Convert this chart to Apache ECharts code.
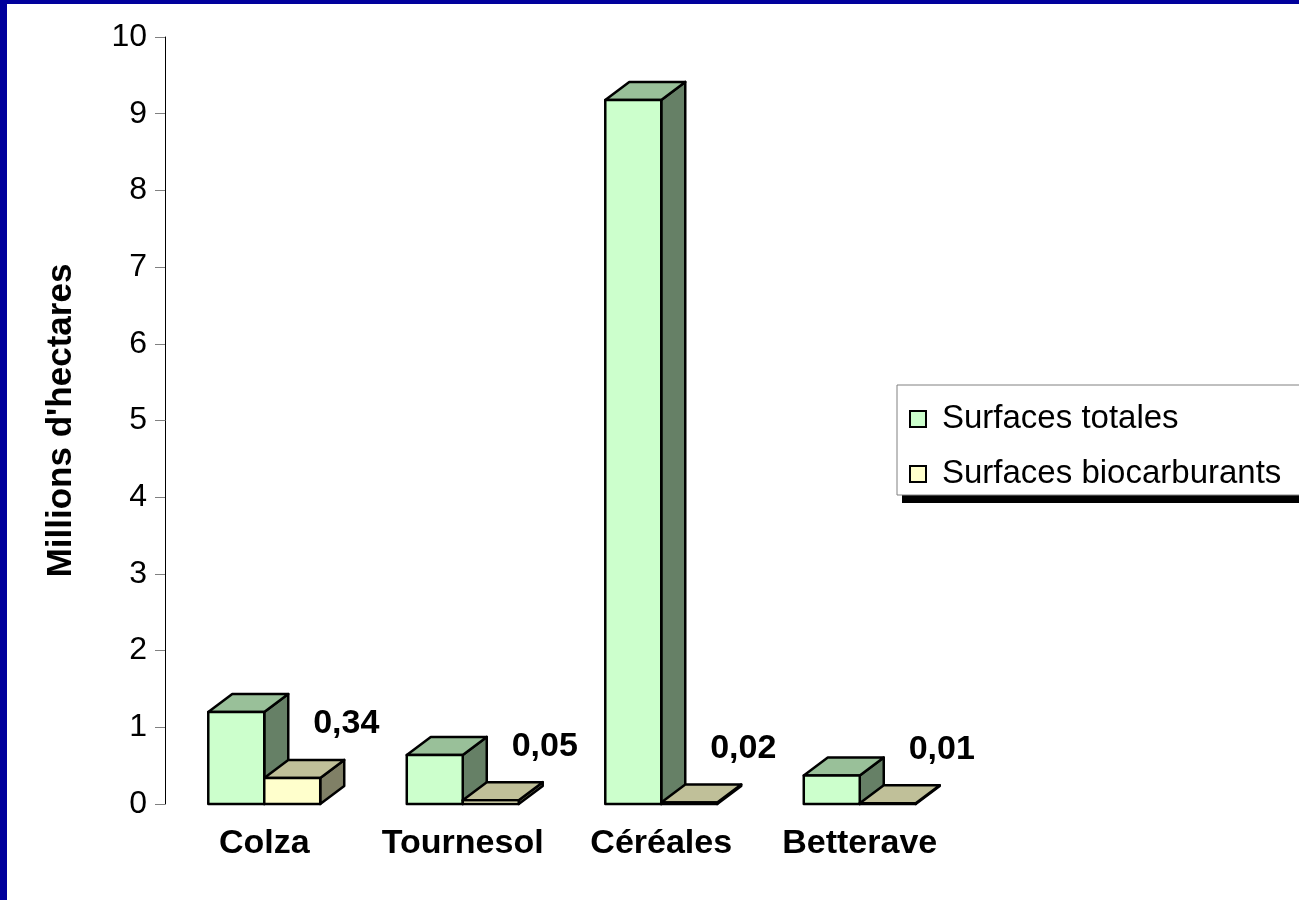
<!DOCTYPE html>
<html>
<head>
<meta charset="utf-8">
<title>Surfaces agricoles et biocarburants</title>
<script src="https://cdn.jsdelivr.net/npm/echarts@6/dist/echarts.min.js"></script>
<style>
  html, body { margin: 0; padding: 0; background: #ffffff; }
  #chart { width: 1299px; height: 900px; }
</style>
</head>
<body>
<div id="chart"></div>
<script>
// Crops (categories) and surfaces in millions of hectares
const categories = ['Colza', 'Tournesol', 'Céréales', 'Betterave'];
const surfacesTotales = [1.20, 0.64, 9.18, 0.37];
const surfacesBiocarburants = [0.34, 0.05, 0.02, 0.01];
const seriesNames = ['Surfaces totales', 'Surfaces biocarburants'];
const yTicks = [0, 1, 2, 3, 4, 5, 6, 7, 8, 9, 10];

const FONT = "'Liberation Sans', Arial, sans-serif";
const DEPTH_X = 24;      // oblique depth of the 3D boxes
const DEPTH_Y = 18;
const BAR_RATIO = 0.282; // bar width as a share of the category band

// Face colours: front, top (darker), side (darkest)
const palettes = [
  { front: '#ccffcc', top: '#99c099', side: '#668066' },
  { front: '#ffffcc', top: '#c0c099', side: '#808066' }
];

function fmt(v) {
  return v.toFixed(2).replace('.', ',');
}

// Draws one 3D box per data item; seriesSlot 0 sits left of the category centre, 1 right of it
function makeRenderer(seriesSlot, withLabel) {
  const pal = palettes[seriesSlot];
  return function (params, api) {
    const cat = api.value(0);
    const val = api.value(1);
    const base = api.coord([cat, 0]);
    const top = api.coord([cat, val]);
    const band = api.size([1, 0])[0];
    const w = band * BAR_RATIO;
    const x0 = seriesSlot === 0 ? base[0] - w : base[0];
    const x1 = x0 + w;
    const yb = base[1];
    const yt = top[1];
    const stroke = { stroke: '#000000', lineWidth: 2.5, lineJoin: 'round' };
    const children = [
      {
        type: 'polygon',
        shape: { points: [[x1, yt], [x1 + DEPTH_X, yt - DEPTH_Y], [x1 + DEPTH_X, yb - DEPTH_Y], [x1, yb]] },
        style: Object.assign({ fill: pal.side }, stroke)
      },
      {
        type: 'polygon',
        shape: { points: [[x0, yt], [x0 + DEPTH_X, yt - DEPTH_Y], [x1 + DEPTH_X, yt - DEPTH_Y], [x1, yt]] },
        style: Object.assign({ fill: pal.top }, stroke)
      },
      {
        type: 'rect',
        shape: { x: x0, y: yt, width: w, height: yb - yt },
        style: Object.assign({ fill: pal.front }, stroke)
      }
    ];
    if (withLabel) {
      children.push({
        type: 'text',
        style: {
          text: fmt(val),
          x: x1 + 26,
          y: yt - 54,
          align: 'center',
          verticalAlign: 'middle',
          font: 'bold 34px ' + FONT,
          fill: '#000000'
        }
      });
    }
    return { type: 'group', children: children };
  };
}

const chart = echarts.init(document.getElementById('chart'), null, { renderer: 'canvas' });

const option = {
  backgroundColor: '#ffffff',
  animation: false,
  grid: { left: 165, right: 340, top: 37, bottom: 96, containLabel: false },
  xAxis: {
    type: 'category',
    data: categories,
    axisLine: { show: false },
    axisTick: { show: false },
    axisLabel: {
      interval: 0,
      hideOverlap: false,
      margin: 23,
      color: '#000000',
      fontFamily: FONT,
      fontSize: 34,
      fontWeight: 'bold'
    }
  },
  yAxis: {
    type: 'value',
    min: yTicks[0],
    max: yTicks[yTicks.length - 1],
    interval: 1,
    name: "Millions d'hectares",
    nameLocation: 'middle',
    nameRotate: 90,
    nameGap: 86,
    nameTextStyle: {
      color: '#000000',
      fontFamily: FONT,
      fontSize: 35,
      fontWeight: 'bold'
    },
    axisLine: { show: true, lineStyle: { color: '#000000', width: 1 } },
    axisTick: { show: true, inside: false, length: 10, lineStyle: { color: '#808080', width: 1 } },
    splitLine: { show: false },
    axisLabel: {
      margin: 18,
      color: '#000000',
      fontFamily: FONT,
      fontSize: 32
    }
  },
  legend: {
    orient: 'vertical',
    left: 904,
    top: 396,
    itemWidth: 16,
    itemHeight: 16,
    itemGap: 19,
    icon: 'rect',
    data: seriesNames,
    textStyle: {
      color: '#000000',
      fontFamily: FONT,
      fontSize: 33,
      lineHeight: 36,
      padding: [0, 0, 0, 11]
    }
  },
  graphic: [
    // frame around the slide
    { type: 'rect', left: 0, top: 0, shape: { width: 1299, height: 4 }, style: { fill: '#00009c' }, z: 100 },
    { type: 'rect', left: 0, top: 0, shape: { width: 7, height: 900 }, style: { fill: '#00009c' }, z: 100 },
    // legend box with its drop shadow
    { type: 'rect', x: 902, y: 391, shape: { width: 420, height: 112 }, style: { fill: '#000000' }, z: 0 },
    { type: 'rect', x: 897, y: 385, shape: { width: 420, height: 110 }, style: { fill: '#ffffff', stroke: '#808080', lineWidth: 1 }, z: 0 }
  ],
  series: [
    {
      name: seriesNames[0],
      type: 'custom',
      renderItem: makeRenderer(0, false),
      itemStyle: { color: palettes[0].front, borderColor: '#000000', borderWidth: 1.5 },
      data: surfacesTotales.map((v, i) => [i, v]),
      encode: { x: 0, y: 1 },
      clip: false,
      z: 2
    },
    {
      name: seriesNames[1],
      type: 'custom',
      renderItem: makeRenderer(1, true),
      itemStyle: { color: palettes[1].front, borderColor: '#000000', borderWidth: 1.5 },
      data: surfacesBiocarburants.map((v, i) => [i, v]),
      encode: { x: 0, y: 1 },
      clip: false,
      z: 3
    }
  ]
};

chart.setOption(option);
</script>
</body>
</html>
